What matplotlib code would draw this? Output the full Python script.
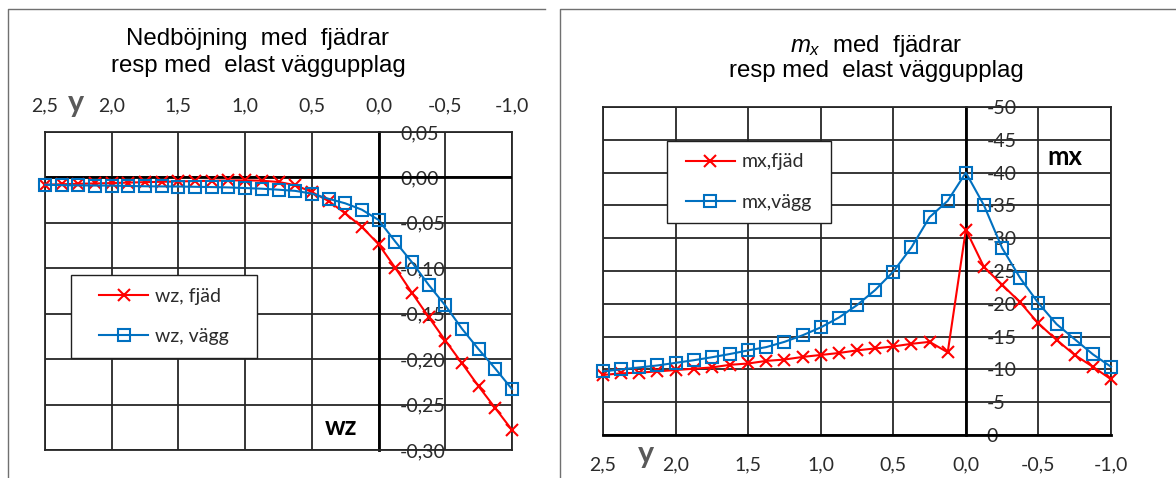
import matplotlib
matplotlib.use("Agg")
import matplotlib.pyplot as plt
from matplotlib.lines import Line2D
from matplotlib.patches import Rectangle

# ---------------- data ----------------
y_pos = [2.5, 2.375, 2.25, 2.125, 2.0, 1.875, 1.75, 1.625, 1.5, 1.375, 1.25, 1.125,
         1.0, 0.875, 0.75, 0.625, 0.5, 0.375, 0.25, 0.125, 0.0, -0.125, -0.25,
         -0.375, -0.5, -0.625, -0.75, -0.875, -1.0]

wz_fjad = [-0.0080, -0.0075, -0.0070, -0.0066, -0.0062, -0.0057, -0.0052, -0.0048,
           -0.0044, -0.0040, -0.0036, -0.0033, -0.0032, -0.0036, -0.0050, -0.0085,
           -0.0160, -0.0260, -0.0395, -0.0545, -0.0735, -0.0995, -0.1270, -0.1535,
           -0.1795, -0.2045, -0.2300, -0.2540, -0.2780]

wz_vagg = [-0.0080, -0.0085, -0.0088, -0.0089, -0.0090, -0.0094, -0.0097, -0.0099,
           -0.0100, -0.0103, -0.0106, -0.0110, -0.0117, -0.0124, -0.0135, -0.0148,
           -0.0178, -0.0235, -0.0285, -0.0355, -0.0468, -0.0706, -0.0933, -0.1182,
           -0.1409, -0.1665, -0.1892, -0.2105, -0.2330]

mx_fjad = [-9.15, -9.4, -9.5, -9.7, -9.9, -10.1, -10.3, -10.7, -10.9, -11.3, -11.5,
           -11.9, -12.2, -12.5, -12.9, -13.2, -13.5, -13.9, -14.2, -12.6, -31.3,
           -25.6, -22.9, -20.2, -17.0, -14.5, -12.2, -10.4, -8.5]

mx_vagg = [-9.7, -10.0, -10.3, -10.6, -11.0, -11.4, -11.85, -12.35, -12.9, -13.4,
           -14.2, -15.2, -16.4, -17.9, -19.8, -22.1, -24.9, -28.6, -33.2, -35.7,
           -40.0, -35.0, -28.5, -23.9, -20.1, -16.9, -14.6, -12.3, -10.4]

x_ticks = [2.5, 2.0, 1.5, 1.0, 0.5, 0.0, -0.5, -1.0]
x_ticklabels = ["2,5", "2,0", "1,5", "1,0", "0,5", "0,0", "-0,5", "-1,0"]
wz_ticks = [0.05, 0.00, -0.05, -0.10, -0.15, -0.20, -0.25, -0.30]
wz_ticklabels = ["0,05", "0,00", "-0,05", "-0,10", "-0,15", "-0,20", "-0,25", "-0,30"]
mx_ticks = [-50, -45, -40, -35, -30, -25, -20, -15, -10, -5, 0]
mx_ticklabels = ["-50", "-45", "-40", "-35", "-30", "-25", "-20", "-15", "-10", "-5", "0"]

# ---------------- style ----------------
plt.rcParams["font.family"] = ["Lato", "DejaVu Sans"]
plt.rcParams["mathtext.fontset"] = "custom"
plt.rcParams["mathtext.it"] = "Liberation Sans:italic"
plt.rcParams["mathtext.rm"] = "Liberation Sans"

W, H = 1176, 478
RED = "#FF0000"
BLUE = "#0070C0"
GRID = "#262626"
TXT = "#2b2b2b"
TITLE_FONT = ["Liberation Sans", "DejaVu Sans"]
GLW = 1.3
ALW = 2.0
TICK_FS = 14


def fx(px):
    return px / W


def fy(py):
    return 1 - py / H


fig = plt.figure(figsize=(W / 100, H / 100), dpi=100)
fig.patch.set_facecolor("white")


def style_axes(ax):
    ax.grid(True, color=GRID, lw=GLW)
    ax.set_axisbelow(True)
    for s in ("left", "top", "bottom"):
        ax.spines[s].set_color(GRID)
        ax.spines[s].set_linewidth(GLW)
    ax.spines["right"].set_position(("data", 0))
    ax.spines["right"].set_color("black")
    ax.spines["right"].set_linewidth(ALW)
    ax.yaxis.tick_right()
    ax.axvline(-1.0, color=GRID, lw=GLW, clip_on=False, zorder=1)


def legend_box(ax, x0, y0, x1, y1):
    rect = Rectangle((fx(x0), fy(y1)), (x1 - x0) / W, (y1 - y0) / H,
                     transform=fig.transFigure, facecolor="white",
                     edgecolor="#202020", lw=1.0, zorder=4.9, clip_on=False)
    ax.add_patch(rect)
    leg = ax.legend(loc="center", bbox_to_anchor=(fx((x0 + x1) / 2), fy((y0 + y1) / 2)),
                    bbox_transform=fig.transFigure, frameon=False, fontsize=14,
                    handlelength=2.5, handletextpad=0.35, labelspacing=1.2,
                    borderpad=0.0)
    for t in leg.get_texts():
        t.set_color(TXT)
    leg.set_zorder(5)


# ---------------- left chart ----------------
ax1 = fig.add_axes([fx(45), fy(450), (512 - 45) / W, (450 - 132) / H])
ax1.set_xlim(2.5, -1.0)
ax1.set_ylim(-0.30, 0.05)
ax1.set_xticks(x_ticks, x_ticklabels)
ax1.set_yticks(wz_ticks, wz_ticklabels)
style_axes(ax1)
ax1.xaxis.tick_top()
ax1.tick_params(axis="x", length=0, pad=12.5, labelsize=TICK_FS, labelcolor=TXT)
ax1.tick_params(axis="y", length=0, pad=15.5, labelsize=TICK_FS, labelcolor=TXT)
ax1.axhline(0, color="black", lw=ALW, zorder=1.5)

ax1.plot(y_pos, wz_fjad, color=RED, lw=1.5, marker="x", ms=8.5, mew=1.5,
         label="wz, fjäd", clip_on=False, zorder=3)
ax1.plot(y_pos, wz_vagg, color=BLUE, lw=1.5, marker="s", ms=9, mew=1.5,
         mfc="none", label="wz, vägg", clip_on=False, zorder=4)
legend_box(ax1, 71, 275, 257, 358)

# ---------------- right chart ----------------
ax2 = fig.add_axes([fx(603), fy(435), (1111 - 603) / W, (435 - 107) / H])
ax2.set_xlim(2.5, -1.0)
ax2.set_ylim(0, -50)
ax2.set_xticks(x_ticks, x_ticklabels)
ax2.set_yticks(mx_ticks, mx_ticklabels)
style_axes(ax2)
ax2.spines["bottom"].set_color("black")
ax2.spines["bottom"].set_linewidth(ALW)
ax2.tick_params(axis="x", length=0, pad=15.5, labelsize=TICK_FS, labelcolor=TXT)
ax2.tick_params(axis="y", length=0, pad=15, labelsize=TICK_FS, labelcolor=TXT)

ax2.plot(y_pos, mx_fjad, color=RED, lw=1.5, marker="x", ms=8.5, mew=1.5,
         label="mx,fjäd", clip_on=False, zorder=3)
ax2.plot(y_pos, mx_vagg, color=BLUE, lw=1.5, marker="s", ms=9, mew=1.5,
         mfc="none", label="mx,vägg", clip_on=False, zorder=4)
legend_box(ax2, 667, 141, 831, 223)

# ---------------- texts ----------------
fig.text(fx(258), fy(45), "Nedböjning  med  fjädrar", ha="center", va="baseline",
         fontsize=17.3, family=TITLE_FONT, color="black")
fig.text(fx(258), fy(72.5), "resp med  elast väggupplag", ha="center", va="baseline",
         fontsize=17.3, family=TITLE_FONT, color="black")
fig.text(fx(876), fy(52), r"$m_x$  med  fjädrar", ha="center", va="baseline",
         fontsize=17.3, family=TITLE_FONT, color="black")
fig.text(fx(876), fy(77), "resp med  elast väggupplag", ha="center", va="baseline",
         fontsize=17.3, family=TITLE_FONT, color="black")

fig.text(fx(76), fy(112), "y", ha="center", va="baseline", fontsize=22,
         fontweight="bold", color="#595959")
fig.text(fx(646), fy(463), "y", ha="center", va="baseline", fontsize=22,
         fontweight="bold", color="#595959")
fig.text(fx(341), fy(427), "wz", ha="center", va="center", fontsize=18.5,
         fontweight="bold", color="black")
fig.text(fx(1065), fy(157), "mx", ha="center", va="center", fontsize=18.5,
         fontweight="bold", color="black")

# chart frames
fig.add_artist(Line2D([fx(7.5), fx(7.5), fx(545)], [fy(478), fy(8.5), fy(8.5)],
                      transform=fig.transFigure, color="#707070", lw=1.0))
fig.add_artist(Line2D([fx(559.5), fx(559.5), fx(1176)], [fy(478), fy(8.5), fy(8.5)],
                      transform=fig.transFigure, color="#707070", lw=1.0))

fig.savefig("out.png", dpi=100, facecolor="white")
